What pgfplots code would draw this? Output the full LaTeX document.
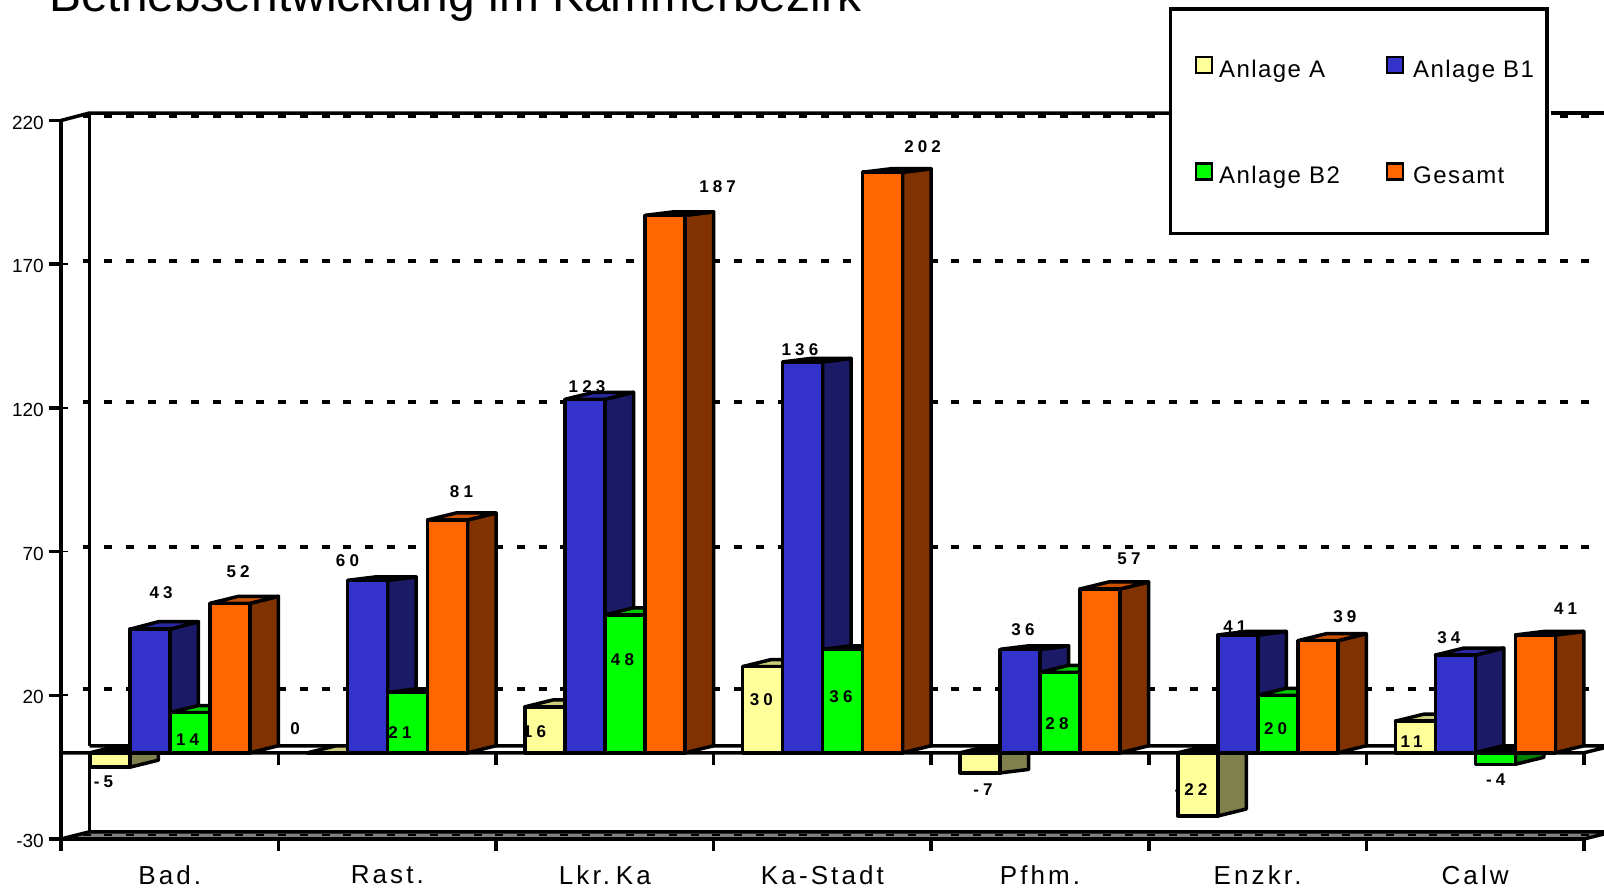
\documentclass[border=0pt]{standalone}
\usepackage{fontspec}
\setmainfont{Liberation Sans}
\newfontfamily\labfam[LetterSpace=24]{Liberation Sans Bold}
\newfontfamily\catfam[LetterSpace=12]{Liberation Sans}
\newfontfamily\legfam[LetterSpace=6]{Liberation Sans}
\usepackage{pgfplots}
\pgfplotsset{compat=1.18}

\definecolor{Afront}{HTML}{FFFF99}
\definecolor{Aside}{HTML}{80804D}
\definecolor{Atop}{HTML}{CCCC7A}
\definecolor{Bfront}{HTML}{3333CC}
\definecolor{Bside}{HTML}{1A1A66}
\definecolor{Btop}{HTML}{2929A3}
\definecolor{Cfront}{HTML}{00FF00}
\definecolor{Cside}{HTML}{008000}
\definecolor{Ctop}{HTML}{00CC00}
\definecolor{Dfront}{HTML}{FF6600}
\definecolor{Dside}{HTML}{803300}
\definecolor{Dtop}{HTML}{CC5200}

\tikzset{barlab/.style={font=\labfam\fontsize{17}{19}\selectfont,inner sep=0pt,anchor=center}}
\pgfplotsset{
  face/.style={forget plot,draw=black,line width=3.5pt,line join=round},
  swatch/.style={legend image code/.code={\path[draw=none,fill=none] (-12pt,0pt) -- (16pt,0pt);\draw[##1] (0pt,-3pt) rectangle (16pt,13pt);}},
  griddash/.style={forget plot,black,line width=4pt,dash pattern=on 8pt off 13.72pt},
}

% #1 category, #2 slot in group, #3 value, #4 depth rise of the top in px, #5 series
\newcommand{\threedbar}[5]{%
  \pgfmathsetmacro{\xa}{#1+0.1333+#2*0.1838}%
  \pgfmathsetmacro{\xb}{\xa+0.1838}%
  \pgfmathsetmacro{\xc}{\xb+0.131}%
  \pgfmathsetmacro{\xd}{\xa+0.131}%
  \pgfmathsetmacro{\yt}{#3+#4/2.874}%
  \addplot[face,fill=#5side] coordinates {(\xb,0) (\xc,2.44) (\xc,\yt) (\xb,#3)} -- cycle;
  \ifdim #3pt<0pt
    \addplot[face,fill=black] coordinates {(\xa,0) (\xb,0) (\xc,2.44) (\xd,2.44)} -- cycle;
  \else
    \addplot[face,fill=#5top] coordinates {(\xa,#3) (\xb,#3) (\xc,\yt) (\xd,\yt)} -- cycle;
  \fi
  \addplot[face,fill=#5front] coordinates {(\xa,0) (\xb,0) (\xb,#3) (\xa,#3)} -- cycle;
}
% value label, position given in picture pixels
\newcommand{\lab}[3]{%
  \pgfmathsetmacro{\lx}{(#1-61)/217.57}%
  \pgfmathsetmacro{\ly}{(839-#2)/2.874-30}%
  \edef\temp{\noexpand\node[barlab] at (axis cs:\lx,\ly) {#3};}\temp
}

\begin{document}
\begin{tikzpicture}
\path[clip,use as bounding box] (0,0) rectangle (1604pt,891pt);
\begin{axis}[
  at={(61pt,52pt)},
  anchor=south west,
  scale only axis,
  width=1523pt,
  height=718.5pt,
  xmin=0, xmax=7,
  ymin=-30, ymax=220,
  clip=false,
  axis x line=bottom,
  axis y line=left,
  axis line style={-,line width=3.5pt},
  tick align=outside,
  major tick length=12pt,
  minor tick length=12pt,
  tick style={black,line width=3.5pt},
  major x tick style={draw=none},
  xtick={0.5,1.5,2.5,3.5,4.5,5.5,6.5},
  minor xtick={0,1,2,3,4,5,6,7},
  xticklabels={Bad.,Rast.\hspace{3pt},Lkr.\hspace{-8pt} Ka,Ka-Stadt\hspace{18pt},Pfhm.,Enzkr.\hspace{3pt},Calw},
  xticklabel style={font=\catfam\fontsize{26}{30}\selectfont,text depth=0pt,inner sep=0pt,yshift=-14pt},
  ytick={-30,20,70,120,170,220},
  yticklabel style={font=\fontsize{19}{21}\selectfont,inner sep=0pt,xshift=-5pt,yshift=-2pt},
  /pgf/number format/assume math mode=true,
  legend columns=2,
  legend cell align=left,
  legend style={
    at={(rel axis cs:0.7277,1.1575)},
    anchor=north west,
    draw=black,
    line width=3.2pt,
    fill=white,
    font=\legfam\fontsize{24}{28}\selectfont,
    inner xsep=13pt,
    inner ysep=47pt,
    row sep=82pt,
    nodes={inner sep=0pt,line width=0pt,text depth=3pt},
    /tikz/every odd column/.append style={column sep=6pt},
    /tikz/column 2/.style={column sep=35pt},
  },
]
% back wall and floor
\addplot[forget plot,black,line width=3.5pt] coordinates {(0,220) (0.131,222.6) (5.5,222.6)};
\addplot[forget plot,black,line width=3.5pt] coordinates {(6.848,222.6) (7.2,222.6)};
\addplot[forget plot,black,line width=3.5pt] coordinates {(0.131,222.6) (0.131,-27.5)};
\addplot[face,fill=gray] coordinates {(0,-30) (7,-30) (7.131,-27.5) (0.131,-27.5)} -- cycle;
\addplot[forget plot,black,line width=2pt,dash pattern=on 8pt off 13.72pt] coordinates {(0.0993,-28.7) (7.03,-28.7)};
% gridlines on the wall
\addplot[griddash] coordinates {(0.0993,221.4) (7.03,221.4)};
\addplot[griddash] coordinates {(0.0993,171.1) (7.03,171.1)};
\addplot[griddash] coordinates {(0.0993,122.2) (7.03,122.2)};
\addplot[griddash] coordinates {(0.0993,71.7) (7.03,71.7)};
\addplot[griddash] coordinates {(0.0993,22.3) (7.03,22.3)};
% small stubs behind the value ticks
\pgfplotsinvokeforeach{20,70,120,170}{
  \addplot[forget plot,black,line width=1.8pt] coordinates {(0,#1) (0.03,#1)};
}
% zero plane
\addplot[forget plot,draw=none,fill=white] coordinates {(0,0) (7,0) (7.131,2.44) (0.131,2.44)} -- cycle;
\addplot[forget plot,black,line width=3.5pt] coordinates {(0,0) (7,0) (7.131,2.44) (0.131,2.44)};
\pgfplotsinvokeforeach{1,2,3,4,5,6,7}{
  \addplot[forget plot,black,line width=3.5pt] coordinates {(#1,0) (#1,-4.2)};
}

% Bad.
\threedbar{0}{0}{-5}{7}{A}
\lab{103.5}{782}{-5}
\lab{161}{592.7}{43}
\threedbar{0}{1}{43}{7.5}{B}
\threedbar{0}{2}{14}{7}{C}
\lab{187.5}{740}{14}
\threedbar{0}{3}{52}{7}{D}
\lab{238}{571.7}{52}
% Rast.
\threedbar{1}{0}{0}{7}{A}
\lab{295}{729}{0}
\threedbar{1}{1}{60}{3.5}{B}
\lab{347.5}{560.7}{60}
\threedbar{1}{2}{21}{3.5}{C}
\lab{400}{733}{21}
\threedbar{1}{3}{81}{7}{D}
\lab{461.5}{492}{81}
% Lkr. Ka
\threedbar{2}{0}{16}{7}{A}
\lab{534.5}{732}{16}
\lab{587}{387}{123}
\threedbar{2}{1}{123}{7}{B}
\threedbar{2}{2}{48}{7}{C}
\lab{622.5}{660}{48}
\threedbar{2}{3}{187}{3.5}{D}
\lab{717.7}{186.7}{187}
% Ka-Stadt
\threedbar{3}{0}{30}{7}{A}
\lab{761.4}{700}{30}
\lab{800}{350}{136}
\threedbar{3}{1}{136}{3.5}{B}
\threedbar{3}{2}{36}{3.5}{C}
\lab{841}{696.7}{36}
\threedbar{3}{3}{202}{3.5}{D}
\lab{922.7}{146.7}{202}
% Pfhm.
\threedbar{4}{0}{-7}{3.5}{A}
\lab{983}{790}{-7}
\threedbar{4}{1}{36}{3.5}{B}
\lab{1023}{630}{36}
\threedbar{4}{2}{28}{7}{C}
\lab{1057}{724}{28}
\threedbar{4}{3}{57}{7}{D}
\lab{1129}{558.5}{57}
% Enzkr.
\threedbar{5}{0}{-22}{7}{A}
\lab{1191}{790}{-22}
\lab{1235}{627}{41}
\threedbar{5}{1}{41}{3.5}{B}
\threedbar{5}{2}{20}{7}{C}
\lab{1275.7}{728.3}{20}
\threedbar{5}{3}{39}{7}{D}
\lab{1345}{616.7}{39}
% Calw
\threedbar{6}{0}{11}{7}{A}
\lab{1411.7}{741.7}{11}
\threedbar{6}{1}{34}{7}{B}
\lab{1449}{637.7}{34}
\threedbar{6}{2}{-4}{7}{C}
\lab{1495.7}{780}{-4}
\threedbar{6}{3}{41}{3.5}{D}
\lab{1565.7}{609}{41}

\addlegendimage{swatch,draw=black,fill=Afront,line width=2.5pt}
\addlegendentry{Anlage A}
\addlegendimage{swatch,draw=black,fill=Bfront,line width=2.5pt}
\addlegendentry{\hspace{3pt}Anlage B1}
\addlegendimage{swatch,draw=black,fill=Cfront,line width=2.5pt}
\addlegendentry{Anlage B2}
\addlegendimage{swatch,draw=black,fill=Dfront,line width=2.5pt}
\addlegendentry{\hspace{3pt}Gesamt}
\end{axis}
\node[anchor=base west,inner sep=0pt,font=\fontsize{47.9}{54}\selectfont] at (49pt,879pt) {Betriebsentwicklung im Kammerbezirk};
\end{tikzpicture}
\end{document}
